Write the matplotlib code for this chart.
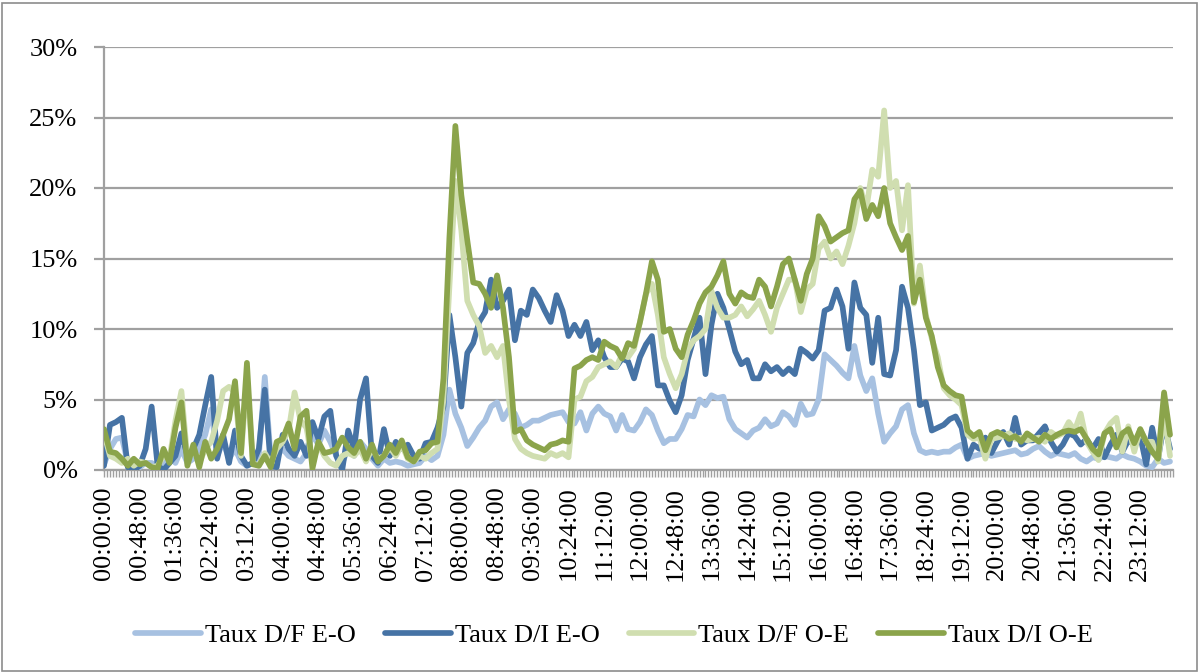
import numpy as np
import matplotlib
matplotlib.use("Agg")
import matplotlib.pyplot as plt
from matplotlib.patches import Rectangle
from matplotlib.ticker import FixedLocator, FuncFormatter

plt.rcParams['font.family'] = ['Liberation Serif', 'DejaVu Serif']

# ---- data (percent), one value every 8 minutes from 00:00 ----
step_min = 8
series_names = ["Taux D/F E-O", "Taux D/I E-O", "Taux D/F O-E", "Taux D/I O-E"]

df_eo = [0.4, 1.5, 2.2, 2.3, 0.5, 0.3, 0.2, 0.5, 0.5, 0.2, 0.3, 1.0, 0.5, 1.5, 0.5, 0.8, 1.5, 2.5, 4.3, 1.0,
         2.0, 0.8, 1.5, 0.6, 0.3, 0.5, 1.0, 6.6, 0.8,
         1.0, 1.5, 1.0, 0.8, 0.6, 1.2, 2.5, 1.8, 2.8, 2.0, 1.0, 0.5, 1.5, 1.0, 2.0, 1.5, 0.8, 0.3, 0.8, 0.5,
         0.6, 0.5, 0.3, 0.4, 0.5,
         1.0, 0.7, 1.0, 2.5, 5.7, 4.0, 3.0, 1.7, 2.3, 3.0, 3.5, 4.5, 4.8, 3.6, 4.3, 4.0, 3.0, 3.2, 3.5, 3.5,
         3.7, 3.9, 4.0, 4.1, 3.4, 3.3, 4.1, 2.8, 4.0, 4.5, 4.0, 3.8,
         2.8, 3.9, 2.9, 2.8, 3.4, 4.3, 3.9, 2.8, 1.9, 2.2, 2.2, 2.9, 3.9, 3.8, 5.0, 4.6, 5.3, 5.1, 5.2, 3.6,
         2.9, 2.6, 2.3, 2.8, 3.0, 3.6, 3.1, 3.3, 4.1, 3.8,
         3.2, 4.7, 3.9, 4.0, 5.0, 8.2, 7.8, 7.4, 6.9, 6.5, 8.8, 6.7, 5.6, 6.5, 4.0, 2.0, 2.6, 3.1, 4.3, 4.6,
         2.6, 1.4, 1.2, 1.3, 1.2, 1.3, 1.3, 1.6,
         1.8, 0.8, 1.0, 1.1, 1.2, 1.0, 1.1, 1.2, 1.3, 1.4, 1.1, 1.2, 1.5, 1.7, 1.3, 1.0, 1.2, 1.1, 1.0, 1.2,
         0.8, 0.6, 0.9, 0.8, 1.0, 0.9, 0.8, 1.1, 0.9, 0.8, 0.6, 0.3, 0.2, 0.8, 0.5, 0.6]

di_eo = [0.3, 3.2, 3.4, 3.7, 0.2, 0.0, 0.3, 1.5, 4.5, 0.3, 0.0, 0.5, 1.0, 2.6, 1.0, 1.5, 2.5, 4.6, 6.6, 0.8,
         2.5, 0.5, 2.8, 1.0, 0.3, 0.5, 1.5, 5.7, 0.3,
         0.2, 2.5, 1.5, 1.0, 2.0, 1.0, 3.4, 2.2, 3.8, 4.2, 1.0, 0.0, 2.8, 1.5, 5.0, 6.5, 1.0, 0.5, 2.9, 1.0,
         2.0, 1.5, 1.8, 1.0, 0.8,
         1.9, 2.0, 3.0, 4.5, 11.0, 8.0, 4.5, 8.3, 9.0, 10.5, 11.2, 13.5, 11.5, 12.0, 12.8, 9.2, 11.3, 11.0,
         12.8, 12.2, 11.3, 10.5, 12.4, 11.3, 9.5, 10.3, 9.5, 10.5, 8.5, 9.2, 8.0, 7.3,
         7.3, 7.9, 7.7, 6.5, 8.0, 8.9, 9.5, 6.0, 6.0, 4.9, 4.1, 5.3, 7.8, 9.3, 10.8, 6.8, 10.3, 12.5, 11.5,
         10.0, 8.4, 7.5, 7.8, 6.5, 6.5, 7.5, 7.0, 7.3, 6.8, 7.2,
         6.8, 8.6, 8.3, 7.9, 8.5, 11.3, 11.5, 12.8, 11.6, 8.6, 13.3, 11.5, 11.0, 7.6, 10.8, 6.8, 6.7, 8.5,
         13.0, 11.5, 8.5, 4.6, 4.8, 2.8, 3.0, 3.2, 3.6, 3.8,
         3.0, 0.8, 1.8, 1.5, 2.3, 1.2, 2.0, 2.7, 1.8, 3.7, 1.8, 2.1, 2.1, 2.6, 3.1, 2.0, 1.3, 1.8, 2.6, 2.4,
         1.8, 2.2, 1.5, 2.2, 0.9, 1.8, 2.5, 1.3, 2.1, 1.8, 2.4, 0.4, 3.0, 0.8, 3.3, 1.5]

df_oe = [2.6, 1.0, 0.8, 0.5, 0.8, 0.3, 0.6, 0.5, 0.2, 0.3, 1.0, 0.8, 3.5, 5.6, 0.8, 1.5, 0.5, 1.5, 2.0, 3.5,
         5.6, 5.9, 5.5, 1.0, 6.5, 0.5, 0.3, 1.2, 0.5,
         1.5, 2.0, 2.8, 5.5, 3.5, 3.0, 0.5, 1.8, 1.0, 0.5, 0.3, 1.0, 1.2, 1.0, 1.5, 0.6, 1.5, 0.8, 1.0, 1.6,
         1.0, 1.8, 0.8, 0.6, 1.0,
         0.8, 1.2, 1.5, 5.0, 13.0, 20.5, 17.0, 12.0, 11.0, 10.2, 8.3, 8.8, 8.0, 8.8, 5.0, 2.2, 1.5, 1.2, 1.0,
         0.9, 0.8, 1.2, 1.0, 1.2, 0.9, 5.0, 5.2, 6.3, 6.6, 7.3, 7.5, 7.7,
         7.3, 8.2, 8.0, 8.6, 10.5, 12.5, 13.2, 11.0, 8.0, 6.8, 5.8, 6.8, 8.5, 9.2, 9.5, 10.0, 12.7, 11.5,
         10.8, 10.8, 11.0, 11.6, 10.9, 11.4, 12.0, 11.0, 9.8, 11.5, 12.5, 13.5,
         13.5, 11.2, 12.8, 13.2, 15.7, 16.2, 15.0, 15.5, 14.6, 15.9, 17.5, 20.0, 18.5, 21.3, 20.8, 25.5, 20.0,
         20.5, 17.0, 20.2, 11.8, 14.5, 11.0, 9.3, 8.0, 5.8, 5.3, 5.0,
         4.6, 2.5, 2.2, 2.3, 0.8, 2.2, 2.3, 2.4, 2.6, 2.2, 2.3, 2.1, 2.2, 2.3, 2.0, 2.7, 2.4, 2.6, 3.4, 2.8,
         4.0, 2.0, 1.3, 0.7, 2.6, 3.3, 3.7, 1.3, 3.1, 1.3, 2.9, 2.0, 2.0, 0.6, 4.0, 1.0]

di_oe = [2.9, 1.3, 1.2, 0.8, 0.3, 0.8, 0.4, 0.5, 0.2, 0.1, 1.5, 0.5, 3.0, 4.8, 0.3, 1.8, 0.2, 2.0, 0.8, 1.5,
         2.5, 3.6, 6.3, 1.2, 7.6, 0.4, 0.3, 1.0, 0.2,
         2.0, 2.2, 3.3, 1.5, 3.8, 4.2, 0.1, 2.0, 1.2, 1.3, 1.5, 2.3, 1.6, 1.2, 2.0, 0.8, 1.8, 0.6, 1.0, 1.8,
         1.2, 2.1, 0.9, 0.6, 1.3,
         1.4, 1.9, 2.0, 6.5, 16.5, 24.4, 19.5, 16.3, 13.3, 13.2, 12.5, 11.5, 13.8, 11.5, 8.0, 2.7, 2.9, 2.1,
         1.8, 1.6, 1.4, 1.8, 1.9, 2.1, 2.0, 7.2, 7.4, 7.8, 8.0, 7.8, 9.1, 8.8,
         8.6, 7.9, 9.0, 8.8, 10.5, 12.5, 14.8, 13.5, 9.8, 10.0, 8.6, 8.0, 9.6, 10.6, 11.8, 12.6, 13.0, 13.8,
         14.8, 12.5, 11.8, 12.6, 12.3, 12.2, 13.5, 13.0, 11.6, 13.0, 14.6, 15.0,
         13.5, 12.0, 13.9, 15.0, 18.0, 17.3, 16.2, 16.5, 16.8, 17.0, 19.2, 19.8, 17.8, 18.8, 18.0, 20.0, 17.5,
         16.5, 15.6, 16.6, 11.9, 13.5, 10.8, 9.5, 7.3, 6.0, 5.6, 5.3,
         5.2, 2.8, 2.4, 2.7, 1.4, 2.5, 2.7, 2.5, 2.2, 2.4, 2.0, 2.6, 2.3, 2.0, 2.5, 2.2, 2.5, 2.7, 2.8, 2.7,
         2.9, 2.2, 1.5, 1.1, 2.6, 2.9, 1.6, 2.6, 2.9, 1.9, 2.9, 2.0, 1.3, 0.8, 5.5, 2.5]

tick_labels = ["00:00:00", "00:48:00", "01:36:00", "02:24:00", "03:12:00", "04:00:00", "04:48:00",
               "05:36:00", "06:24:00", "07:12:00", "08:00:00", "08:48:00", "09:36:00", "10:24:00",
               "11:12:00", "12:00:00", "12:48:00", "13:36:00", "14:24:00", "15:12:00", "16:00:00",
               "16:48:00", "17:36:00", "18:24:00", "19:12:00", "20:00:00", "20:48:00", "21:36:00",
               "22:24:00", "23:12:00"]
y_ticks = [0, 5, 10, 15, 20, 25, 30]

colors = ["#A7C1E1", "#4673A5", "#D0DEB0", "#8BA44B"]

# ---- figure ----
W, H = 1199, 672
fig = plt.figure(figsize=(W / 100, H / 100), dpi=100)
L, R, T, B = 104, 1173, 47, 470
ax = fig.add_axes([L / W, 1 - B / H, (R - L) / W, (B - T) / H])

data = [df_eo, di_eo, df_oe, di_oe]
for vals, name, c in zip(data, series_names, colors):
    vals = np.asarray(vals, dtype=float)
    t = np.arange(len(vals)) * step_min
    ax.plot(t, vals, color=c, lw=4.1, label=name, solid_joinstyle='round',
            solid_capstyle='round', zorder=3)

grid_c = "#A0A0A0"
ax.set_xlim(0, 1436)
ax.set_ylim(0, 30)
ax.yaxis.set_major_locator(FixedLocator(y_ticks))
ax.yaxis.set_major_formatter(FuncFormatter(lambda v, p: f"{v:.0f}%"))
ax.grid(axis='y', color=grid_c, lw=1.6, zorder=1)
ax.set_axisbelow(True)

label_pos = [i * 48 for i in range(len(tick_labels))]
ax.set_xticks(label_pos)
ax.set_xticklabels(tick_labels, rotation=90, fontsize=19)
ax.set_xticks(np.arange(0, 1437, 4), minor=True)
ax.tick_params(axis='x', which='both', length=5, width=1, color=grid_c, direction='out', pad=7)
ax.tick_params(axis='y', which='major', length=7, width=1.6, color=grid_c, pad=12, labelsize=19)

for s in ['top', 'right']:
    ax.spines[s].set_visible(False)
for s in ['left', 'bottom']:
    ax.spines[s].set_color(grid_c)
    ax.spines[s].set_linewidth(1.6)

fig.legend(loc='center', bbox_to_anchor=(614 / W, 1 - 635 / H), ncol=4, frameon=False,
           fontsize=19, handlelength=2.5, handletextpad=0.15, columnspacing=1.1)

fig.patches.append(Rectangle((1.5 / W, 1.5 / H), (W - 4) / W, (H - 4) / H, transform=fig.transFigure,
                             fill=False, edgecolor="#8C8C8C", lw=1.2))

fig.savefig("out.png", dpi=100)
